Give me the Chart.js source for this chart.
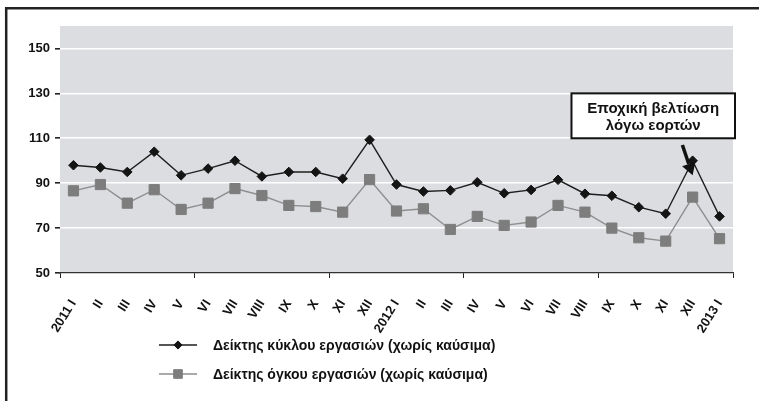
<!DOCTYPE html>
<html>
<head>
<meta charset="utf-8">
<script src="https://cdn.jsdelivr.net/npm/chart.js@4.4.0/dist/chart.umd.min.js"></script>
<style>
  html, body { margin: 0; padding: 0; background: #fff; }
  #wrap { width: 759px; height: 401px; }
</style>
</head>
<body>
<div id="wrap"><canvas id="chart" width="759" height="401"></canvas></div>
<script>
const months = ['2011 I', 'II', 'III', 'IV', 'V', 'VI', 'VII', 'VIII', 'IX', 'X', 'XI', 'XII',
  '2012 I', 'II', 'III', 'IV', 'V', 'VI', 'VII', 'VIII', 'IX', 'X', 'XI', 'XII', '2013 I'];
const turnoverIndex = [98, 97, 95, 104, 93.5, 96.5, 100, 93, 95, 95, 92, 109.3,
  89.4, 86.3, 86.8, 90.4, 85.5, 87, 91.5, 85.3, 84.4, 79.3, 76.4, 100, 75.2];
const volumeIndex = [86.6, 89.4, 81.1, 87.1, 78.3, 81.1, 87.6, 84.5, 80.1, 79.6, 77.1, 91.6,
  77.6, 78.6, 69.4, 75.2, 71.2, 72.7, 80.1, 77.1, 70, 65.7, 64.2, 83.8, 65.3];
const yTicks = [50, 70, 90, 110, 130, 150];
const seriesNames = ['Δείκτης κύκλου εργασιών (χωρίς καύσιμα)', 'Δείκτης όγκου εργασιών (χωρίς καύσιμα)'];
const noteLines = ['Εποχική βελτίωση', 'λόγω εορτών'];

const FONT = '"Liberation Sans", Arial, sans-serif';

// gray plot background, frame lines, note box + arrow, legend
const decorations = {
  id: 'decorations',
  beforeDraw(chart) {
    const { ctx, chartArea: a } = chart;
    ctx.save();
    ctx.fillStyle = '#dcdde0';
    ctx.fillRect(a.left, a.top, a.right - a.left, a.bottom - a.top);
    ctx.strokeStyle = '#222';
    ctx.lineWidth = 2.5;
    ctx.beginPath();
    ctx.moveTo(6.2, 401);
    ctx.lineTo(6.2, 8.2);
    ctx.lineTo(759, 8.2);
    ctx.stroke();
    ctx.restore();
  },
  afterDraw(chart) {
    const { ctx, chartArea: a } = chart;
    const x = chart.scales.x, y = chart.scales.y;
    ctx.save();

    // note box
    const bx = x.getPixelForValue(18.5), by = y.getPixelForValue(130);
    const bw = a.right + 2 - bx, bh = y.getPixelForValue(110) - by;
    ctx.fillStyle = '#fff';
    ctx.fillRect(bx, by, bw, bh);
    ctx.strokeStyle = '#111';
    ctx.lineWidth = 2;
    ctx.strokeRect(bx, by, bw, bh);
    ctx.fillStyle = '#111';
    ctx.font = 'bold 15px ' + FONT;
    ctx.textAlign = 'center';
    ctx.textBaseline = 'middle';
    noteLines.forEach((t, i) => ctx.fillText(t, bx + bw / 2, by + 15 + i * 17.5));

    // arrow
    const x0 = x.getPixelForValue(22.62), y0 = y.getPixelForValue(107);
    const x1 = x.getPixelForValue(23), y1 = y.getPixelForValue(93.5);
    const ang = Math.atan2(y1 - y0, x1 - x0);
    const hl = 12, hw = 7;
    const bxA = x1 - hl * Math.cos(ang), byA = y1 - hl * Math.sin(ang);
    ctx.strokeStyle = '#111';
    ctx.lineWidth = 3.5;
    ctx.beginPath();
    ctx.moveTo(x0, y0);
    ctx.lineTo(bxA, byA);
    ctx.stroke();
    ctx.beginPath();
    ctx.moveTo(x1, y1);
    ctx.lineTo(bxA + hw * Math.sin(ang), byA - hw * Math.cos(ang));
    ctx.lineTo(bxA - hw * Math.sin(ang), byA + hw * Math.cos(ang));
    ctx.closePath();
    ctx.fill();

    // legend
    const rows = [345, 374];
    chart.data.datasets.forEach((ds, i) => {
      const ly = rows[i];
      ctx.strokeStyle = ds.borderColor;
      ctx.lineWidth = ds.borderWidth;
      ctx.beginPath();
      ctx.moveTo(159, ly);
      ctx.lineTo(197, ly);
      ctx.stroke();
      ctx.fillStyle = ds.pointBackgroundColor;
      ctx.strokeStyle = ds.pointBorderColor;
      ctx.lineWidth = 1;
      Chart.helpers.drawPoint(ctx, {
        pointStyle: ds.pointStyle, radius: ds.pointRadius * 0.85, rotation: 0, borderWidth: 1
      }, 178, ly);
      ctx.fillStyle = '#111';
      ctx.font = 'bold 14px ' + FONT;
      ctx.textAlign = 'left';
      ctx.textBaseline = 'middle';
      ctx.fillText(seriesNames[i], 213, ly + 1);
    });
    ctx.restore();
  }
};

new Chart(document.getElementById('chart'), {
  type: 'line',
  data: {
    labels: months,
    datasets: [
      {
        label: seriesNames[0],
        data: turnoverIndex,
        borderColor: '#1e1e1e',
        borderWidth: 1.4,
        pointStyle: 'rectRot',
        pointRadius: 4.8,
        pointBackgroundColor: '#141414',
        pointBorderColor: '#141414',
        pointBorderWidth: 1,
        tension: 0,
        order: 1,
      },
      {
        label: seriesNames[1],
        data: volumeIndex,
        borderColor: '#8e8e8e',
        borderWidth: 1.4,
        pointStyle: 'rect',
        pointRadius: 7.2,
        pointBackgroundColor: '#7d7d7d',
        pointBorderColor: '#7d7d7d',
        pointBorderWidth: 1,
        tension: 0,
        order: 2,
      },
    ],
  },
  options: {
    responsive: false,
    animation: false,
    layout: { padding: { top: 26, left: 8, right: 26, bottom: 58 } },
    plugins: {
      legend: { display: false },
      tooltip: { enabled: false },
    },
    scales: {
      x: {
        offset: true,
        afterFit: (s) => { s.height = 70; },
        border: { display: true, color: '#333', width: 1.2 },
        grid: {
          offset: true,
          drawOnChartArea: false,
          tickLength: 5,
          tickColor: (c) => (c.index === undefined || c.index % 5 === 0) ? '#222' : 'rgba(0,0,0,0)',
        },
        ticks: {
          autoSkip: false,
          minRotation: 58,
          maxRotation: 58,
          padding: 19,
          color: '#111',
          font: { family: FONT, size: 13, weight: 'bold' },
        },
      },
      y: {
        min: 50,
        max: 160,
        afterBuildTicks: (s) => { s.ticks = yTicks.map((v) => ({ value: v })); },
        afterFit: (s) => { s.width = 52; },
        border: { display: false },
        grid: {
          color: (c) => (c.tick && c.tick.value === 50) ? 'rgba(0,0,0,0)' : '#ffffff',
          lineWidth: 1.6,
          tickLength: 5,
          tickColor: '#222',
        },
        ticks: {
          padding: 5,
          color: '#111',
          font: { family: FONT, size: 13, weight: 'bold' },
        },
      },
    },
  },
  plugins: [decorations],
});
</script>
</body>
</html>
